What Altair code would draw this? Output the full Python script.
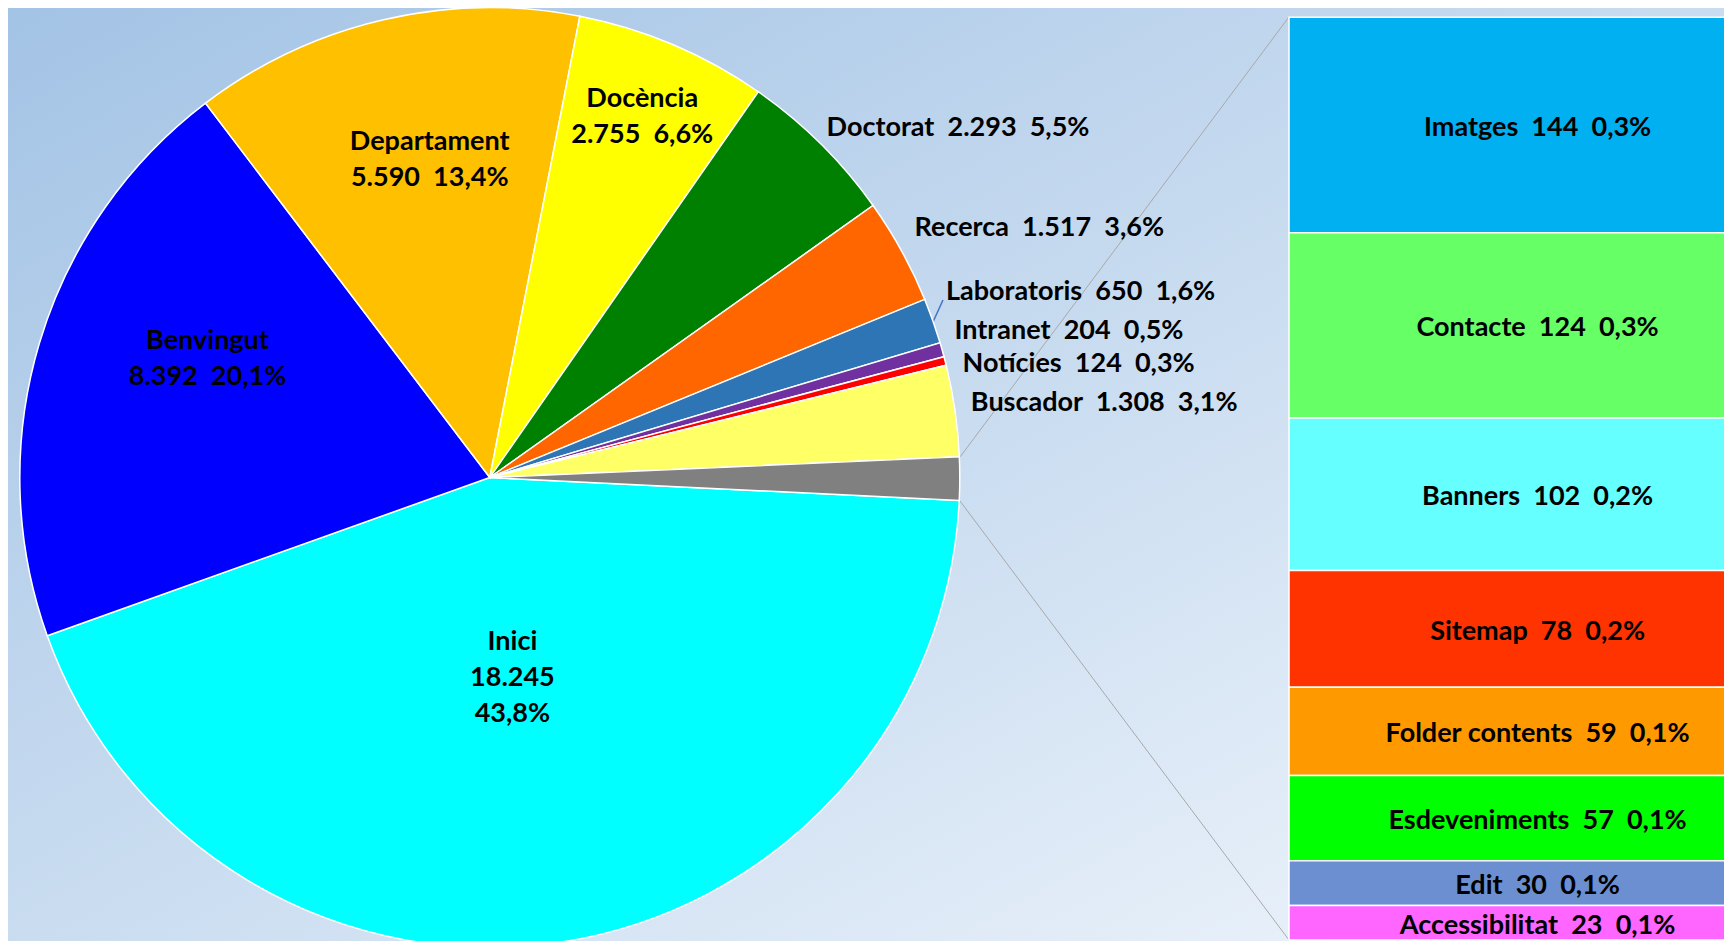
import math
import altair as alt
import pandas as pd

# ---------------- data ----------------
pie_cats = ["Inici", "Benvingut", "Departament", "Docència", "Doctorat", "Recerca",
            "Laboratoris", "Intranet", "Notícies", "Buscador", "Altres"]
pie_main_vals = [18245, 8392, 5590, 2755, 2293, 1517, 650, 204, 124, 1308]
pie_pcts = ["43,8%", "20,1%", "13,4%", "6,6%", "5,5%", "3,6%", "1,6%", "0,5%", "0,3%", "3,1%", ""]
pie_colors = ["#00FFFF", "#0000FF", "#FFC000", "#FFFF00", "#008000", "#FF6600",
              "#2E75B6", "#7030A0", "#FF0000", "#FFFF66", "#808080"]

bar_cats = ["Imatges", "Contacte", "Banners", "Sitemap", "Folder contents",
            "Esdeveniments", "Edit", "Accessibilitat"]
bar_vals = [144, 124, 102, 78, 59, 57, 30, 23]
bar_pcts = ["0,3%", "0,3%", "0,2%", "0,2%", "0,1%", "0,1%", "0,1%", "0,1%"]
bar_colors = ["#00B0F0", "#66FF66", "#66FFFF", "#FF3300", "#FF9900",
              "#00FF00", "#6B8FD0", "#FF66FF"]

pie_vals = pie_main_vals + [sum(bar_vals)]   # "Altres" slice = the split-out bar
total = sum(pie_vals)
bar_total = sum(bar_vals)

SP = "\u00a0\u00a0"


def fmt(v):
    return f"{v:,}".replace(",", ".")


inside = {"Inici", "Benvingut", "Departament", "Docència"}
pie_labels = []
for c, v, p in zip(pie_cats, pie_vals, pie_pcts):
    if c == "Inici":
        pie_labels.append(f"{c}\n{fmt(v)}\n{p}")
    elif c in inside:
        pie_labels.append(f"{c}\n{fmt(v)}{SP}{p}")
    elif c == "Altres":
        pie_labels.append("")
    else:
        pie_labels.append(f"{c}{SP}{fmt(v)}{SP}{p}")

pie_df = pd.DataFrame({"order": range(len(pie_cats)), "cat": pie_cats,
                       "value": pie_vals, "label": pie_labels})
bar_df = pd.DataFrame({"order": range(len(bar_cats)), "cat": bar_cats, "value": bar_vals,
                       "label": [f"{c}{SP}{fmt(v)}{SP}{p}" for c, v, p in zip(bar_cats, bar_vals, bar_pcts)]})

# ---------------- layout / style ----------------
W, H = 1716, 933
CX, CY, R = 481.8, 469.5, 470
START = math.radians(92.8)
FONT = "Lato"
FS = 27
LH = 36

theta_scale = alt.Scale(domain=[0, total], range=[START, START + 2 * math.pi])
color_scale = alt.Scale(domain=pie_cats + bar_cats, range=pie_colors + bar_colors)
y_scale = alt.Scale(domain=[0, bar_total], range=[9.3, 932])

one = pd.DataFrame({"k": [0]})

bg = alt.Chart(one).mark_rect(
    color=alt.LinearGradient(
        gradient="linear",
        stops=[alt.GradientStop(color="#A3C3E5", offset=0),
               alt.GradientStop(color="#C9DCF0", offset=0.5),
               alt.GradientStop(color="#F1F6FC", offset=1)],
        x1=0, y1=0, x2=1, y2=1)
).encode(x=alt.value(0), x2=alt.value(W), y=alt.value(0), y2=alt.value(H))

conn1 = alt.Chart(one).mark_rule(color="#A8A8A8", strokeWidth=1).encode(
    x=alt.value(952), y=alt.value(449), x2=alt.value(1280.7), y2=alt.value(9.3))
conn2 = alt.Chart(one).mark_rule(color="#A8A8A8", strokeWidth=1).encode(
    x=alt.value(952), y=alt.value(493), x2=alt.value(1281), y2=alt.value(932))
leader = alt.Chart(one).mark_rule(color="#4472C4", strokeWidth=1.5).encode(
    x=alt.value(925), y=alt.value(314), x2=alt.value(935), y2=alt.value(292))

pie_base = alt.Chart(pie_df).transform_window(
    c1="sum(value)", sort=[alt.SortField("order")], frame=[None, 0]
).transform_calculate(c0="datum.c1 - datum.value", mid="datum.c1 - datum.value / 2")

arcs = pie_base.mark_arc(radius=R, stroke="white", strokeWidth=1.5).encode(
    theta=alt.Theta("c0:Q", scale=theta_scale, stack=None),
    theta2="c1:Q",
    color=alt.Color("cat:N", scale=color_scale, legend=None),
    x=alt.value(CX), y=alt.value(CY),
)

# label placement (radius, dx, dy, align) per label
label_place = {
    "Inici": (202, -7, 1 - LH, "center"),
    "Benvingut": (306, 11, -31 - LH / 2, "center"),
    "Departament": (323, 13, -3 - LH / 2, "center"),
    "Docència": (391, 0, -LH / 2, "center"),
    "Doctorat": (487, -6, -4, "left"),
    "Recerca": (487, -2, -15, "left"),
    "Laboratoris": (487, -3, -23, "left"),
    "Intranet": (487, -4, -14, "left"),
    "Notícies": (487, 1, 7, "left"),
    "Buscador": (487, -1, -5, "left"),
}

label_layers = []
for cat, (rad, dx, dy, al) in label_place.items():
    label_layers.append(
        pie_base.transform_filter(alt.datum.cat == cat).mark_text(
            radius=rad, dx=dx, dy=dy, align=al, baseline="middle",
            font=FONT, fontWeight="bold", fontSize=FS, lineBreak="\n",
            lineHeight=LH, color="black"
        ).encode(
            theta=alt.Theta("mid:Q", scale=theta_scale, stack=None),
            text="label:N",
            x=alt.value(CX), y=alt.value(CY),
        )
    )

bar_base = alt.Chart(bar_df).transform_window(
    b1="sum(value)", sort=[alt.SortField("order")], frame=[None, 0]
).transform_calculate(b0="datum.b1 - datum.value", bmid="datum.b1 - datum.value / 2")

bars = bar_base.mark_rect(stroke="white", strokeWidth=1.5).encode(
    x=alt.value(1281), x2=alt.value(1740),
    y=alt.Y("b0:Q", scale=y_scale, axis=None),
    y2="b1:Q",
    color=alt.Color("cat:N", scale=color_scale, legend=None),
)

bar_text = bar_base.mark_text(
    font=FONT, fontWeight="bold", fontSize=FS, color="black", align="center",
    baseline="middle", dy=3
).encode(
    x=alt.value(1529.6),
    y=alt.Y("bmid:Q", scale=y_scale, axis=None),
    text="label:N",
)

chart = alt.layer(bg, conn1, conn2, leader, arcs, *label_layers, bars, bar_text).properties(
    width=W, height=H, padding=0,
    autosize=alt.AutoSizeParams(type="none"),
    background="#C9DCF0",
).configure_view(stroke=None)

chart.save("out.html", embed_options={"renderer": "svg", "actions": False})
